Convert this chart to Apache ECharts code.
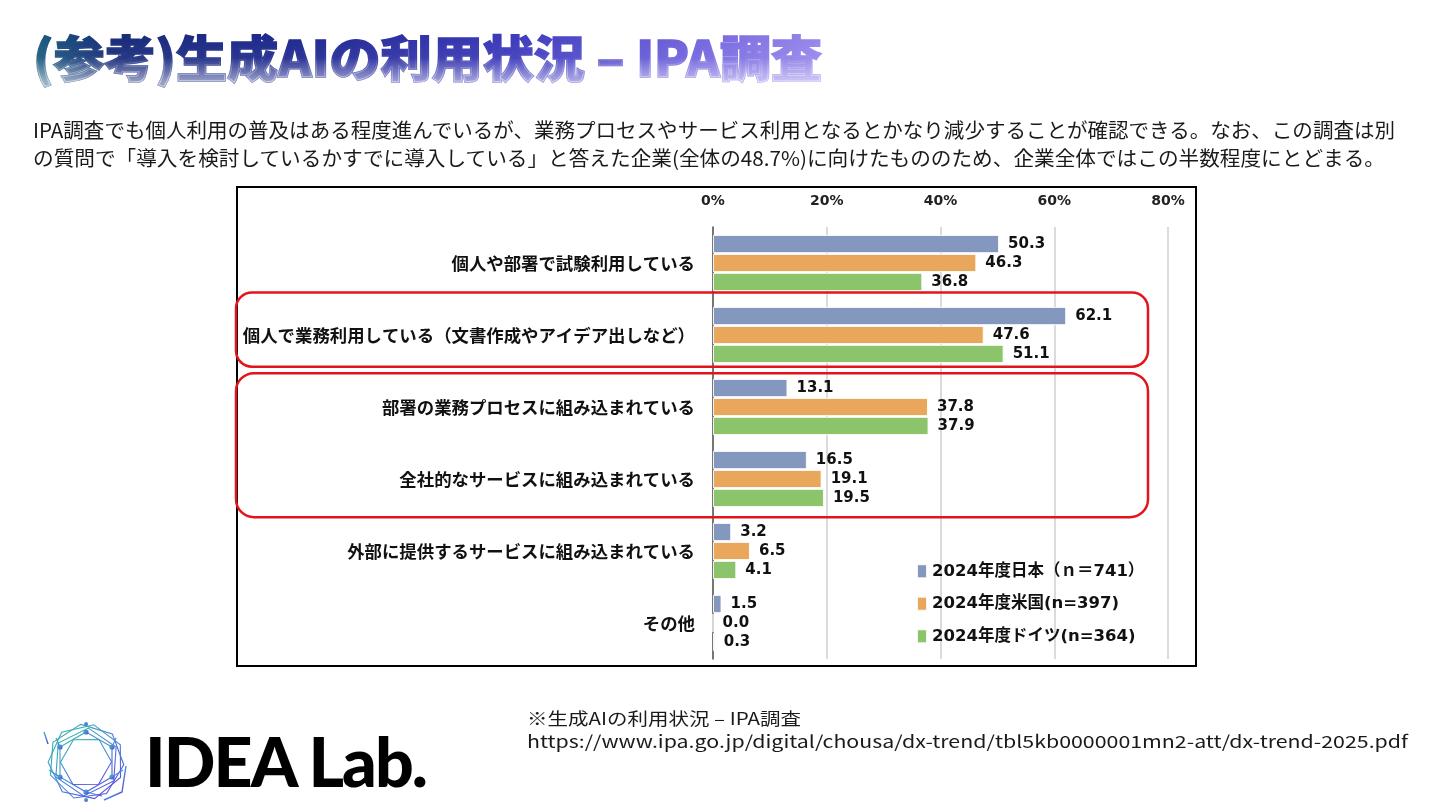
<!DOCTYPE html>
<html>
<head>
<meta charset="utf-8">
<script src="https://cdn.jsdelivr.net/npm/echarts@6/dist/echarts.min.js"></script>
<style>
  html, body { margin:0; padding:0; background:#fff; }
  body { width:1440px; height:810px; position:relative; overflow:hidden; font-family:"Noto Sans CJK JP","Noto Sans",sans-serif; }
  #chart { position:absolute; left:0; top:0; width:1440px; height:810px; }
  .ov { position:absolute; white-space:nowrap; transform-origin:0 50%; z-index:2; pointer-events:none; }
  .sub { left:33px; font-size:20px; line-height:24px; color:#1a1a1a; }
  .note { left:527px; font-size:17px; line-height:21px; color:#1a1a1a; }
  #titleSvg { position:absolute; left:0; top:0; width:900px; height:100px; z-index:2; }
  #logoSvg { position:absolute; left:0; top:700px; width:460px; height:110px; z-index:2; }
</style>
</head>
<body>
<div id="chart"></div>
<svg id="titleSvg" viewBox="0 0 900 100">
  <defs>
    <linearGradient id="tg" gradientUnits="userSpaceOnUse" x1="33" y1="0" x2="822" y2="0">
      <stop offset="0" stop-color="#1d5f80"/>
      <stop offset="0.1" stop-color="#1a2d7a"/>
      <stop offset="0.35" stop-color="#222a92"/>
      <stop offset="0.6" stop-color="#3d3bbb"/>
      <stop offset="0.82" stop-color="#6f62dc"/>
      <stop offset="1" stop-color="#9888ec"/>
    </linearGradient>
    <linearGradient id="vg" gradientUnits="userSpaceOnUse" x1="0" y1="38" x2="0" y2="82">
      <stop offset="0" stop-color="#ffffff" stop-opacity="0"/>
      <stop offset="0.45" stop-color="#ffffff" stop-opacity="0.05"/>
      <stop offset="1" stop-color="#ffffff" stop-opacity="0.55"/>
    </linearGradient>
  </defs>
  <text x="33" y="77" font-family="Noto Sans CJK JP" font-weight="900" font-size="49" fill="url(#tg)" stroke="url(#tg)" stroke-width="1.6"
        textLength="789" lengthAdjust="spacingAndGlyphs">(参考)生成AIの利用状況 – IPA調査</text>
  <text x="33" y="77" font-family="Noto Sans CJK JP" font-weight="900" font-size="49" fill="url(#vg)" stroke="url(#vg)" stroke-width="1.6"
        textLength="789" lengthAdjust="spacingAndGlyphs">(参考)生成AIの利用状況 – IPA調査</text>
</svg>
<div class="ov sub" style="top:118px" data-w="1362">IPA調査でも個人利用の普及はある程度進んでいるが、業務プロセスやサービス利用となるとかなり減少することが確認できる。なお、この調査は別</div>
<div class="ov sub" style="top:146px" data-w="1352">の質問で「導入を検討しているかすでに導入している」と答えた企業(全体の48.7%)に向けたもののため、企業全体ではこの半数程度にとどまる。</div>
<div class="ov note" style="top:707px" data-w="274">※生成AIの利用状況 – IPA調査</div>
<div class="ov note" style="top:730px" data-w="881">https://www.ipa.go.jp/digital/chousa/dx-trend/tbl5kb0000001mn2-att/dx-trend-2025.pdf</div>
<svg id="logoSvg" viewBox="0 700 460 110">
  <defs>
    <linearGradient id="lg" x1="0" y1="0" x2="1" y2="1">
      <stop offset="0" stop-color="#2cc0a0"/>
      <stop offset="0.5" stop-color="#4a8ad8"/>
      <stop offset="1" stop-color="#5a3fe0"/>
    </linearGradient>
  </defs>
  <text x="145" y="787" font-family="Lato" font-weight="900" font-size="68" fill="#000"
        textLength="283" lengthAdjust="spacing">IDEA Lab.</text>
  <g fill="none" stroke="url(#lg)" stroke-width="1.1" transform="translate(86,762)">
    <polygon points="0,-38 30,-24 37,8 16,34 -17,34 -37,8 -30,-24" transform="rotate(-8)"/>
    <polygon points="0,-38 30,-24 37,8 16,34 -17,34 -37,8 -30,-24" transform="rotate(12)"/>
    <polygon points="0,-34 29,-17 29,17 0,34 -29,17 -29,-17" transform="rotate(4)"/>
    <polygon points="0,-30 26,-15 26,15 0,30 -26,15 -26,-15"/>
    <polygon points="0,-26 22,-13 22,13 0,26 -22,13 -22,-13" transform="rotate(30)"/>
    <line x1="0" y1="-30" x2="0" y2="-38"/><line x1="26" y1="-15" x2="30" y2="-24"/>
    <line x1="26" y1="15" x2="37" y2="8"/><line x1="0" y1="30" x2="16" y2="34"/>
    <line x1="-26" y1="15" x2="-37" y2="8"/><line x1="-26" y1="-15" x2="-30" y2="-24"/>
    <polyline points="40,4 36,30 18,38" stroke-width="1.4"/>
    <polyline points="-38,-18 -42,-30" stroke-width="1.4"/>
  </g>
  <g fill="url(#lg)" transform="translate(86,762)">
    <circle cx="0" cy="-30" r="2.6"/><circle cx="26" cy="-15" r="2.6"/><circle cx="26" cy="15" r="2.6"/>
    <circle cx="0" cy="30" r="2.6"/><circle cx="-26" cy="15" r="2.6"/><circle cx="-26" cy="-15" r="2.6"/>
    <circle cx="0" cy="-38" r="2"/><circle cx="0" cy="38" r="2"/>
  </g>
</svg>
<script>
// ---- data ----
const categories = [
  '個人や部署で試験利用している',
  '個人で業務利用している（文書作成やアイデア出しなど）',
  '部署の業務プロセスに組み込まれている',
  '全社的なサービスに組み込まれている',
  '外部に提供するサービスに組み込まれている',
  'その他'
];
const seriesNames = ['2024年度日本（ｎ＝741）', '2024年度米国(n=397)', '2024年度ドイツ(n=364)'];
const japan   = [50.3, 62.1, 13.1, 16.5, 3.2, 1.5];
const usa     = [46.3, 47.6, 37.8, 19.1, 6.5, 0.0];
const germany = [36.8, 51.1, 37.9, 19.5, 4.1, 0.3];
const xTicks  = [0, 20, 40, 60, 80];
const colors  = ['#8497BE', '#E8A75B', '#8BC46B'];

// fit overlay text widths
document.querySelectorAll('[data-w]').forEach(el => {
  const target = parseFloat(el.dataset.w);
  const w = el.getBoundingClientRect().width;
  if (w > 0) el.style.transform = 'scaleX(' + (target / w) + ')';
});

const numFont = '"DejaVu Sans","Noto Sans CJK JP",sans-serif';
const jpFont = '"Noto Sans CJK JP","Noto Sans",sans-serif';
const chart = echarts.init(document.getElementById('chart'), null, { renderer: 'canvas' });
const mkSeries = (name, data, color) => ({
  name, type: 'bar', data,
  barGap: '4%', barCategoryGap: '22%',
  itemStyle: { color, borderColor: 'rgba(255,255,255,0.9)', borderWidth: 1 },
  label: { show: true, position: 'right', distance: 9, color: '#111', fontFamily: numFont,
           fontWeight: 'bold', fontSize: 15, formatter: p => p.value.toFixed(1) },
  emphasis: { disabled: true }, animation: false
});
chart.setOption({
  animation: false,
  backgroundColor: 'transparent',
  grid: { left: 713, right: 272, top: 227, bottom: 151, containLabel: false },
  xAxis: {
    type: 'value', position: 'top', min: xTicks[0], max: xTicks[xTicks.length - 1], interval: 20,
    axisLine: { show: false }, axisTick: { show: false },
    splitLine: { show: true, lineStyle: { color: '#cfcfcf', width: 1.5 } },
    axisLabel: { formatter: '{value}%', margin: 19, color: '#222', fontFamily: numFont, fontWeight: 'bold', fontSize: 14 }
  },
  yAxis: {
    type: 'category', inverse: true, data: categories,
    axisLine: { show: true, lineStyle: { color: '#555', width: 1.5 } },
    axisTick: { show: false },
    axisLabel: { margin: 18, color: '#111', fontFamily: jpFont, fontWeight: 'bold', fontSize: 17.4 }
  },
  legend: {
    orient: 'vertical', left: 911, top: 558, itemWidth: 10, itemHeight: 14, itemGap: 16,
    icon: 'rect', data: seriesNames,
    textStyle: { color: '#111', fontFamily: numFont, fontWeight: 'bold', fontSize: 16.5 }
  },
  series: [
    mkSeries(seriesNames[0], japan, colors[0]),
    mkSeries(seriesNames[1], usa, colors[1]),
    mkSeries(seriesNames[2], germany, colors[2])
  ]
});

// annotations: frame and red highlight boxes (positioned from the category axis)
const yC = i => chart.convertToPixel({ yAxisIndex: 0 }, i);
const band = yC(1) - yC(0);
chart.setOption({
  graphic: [
    { type: 'rect', shape: { x: 237, y: 187, width: 959, height: 479 }, style: { fill: 'none', stroke: '#000', lineWidth: 2 }, silent: true },
    { type: 'rect', shape: { x: 236, y: yC(1) - band * 0.59, width: 912, height: band * 1.03, r: 16 },
      style: { fill: 'none', stroke: '#e4141b', lineWidth: 2.5 }, silent: true, z: 100 },
    { type: 'rect', shape: { x: 236, y: yC(2) - band * 0.47, width: 912, height: yC(3) - yC(2) + band * 1.0, r: 18 },
      style: { fill: 'none', stroke: '#e4141b', lineWidth: 2.5 }, silent: true, z: 100 }
  ]
});
</script>
</body>
</html>
